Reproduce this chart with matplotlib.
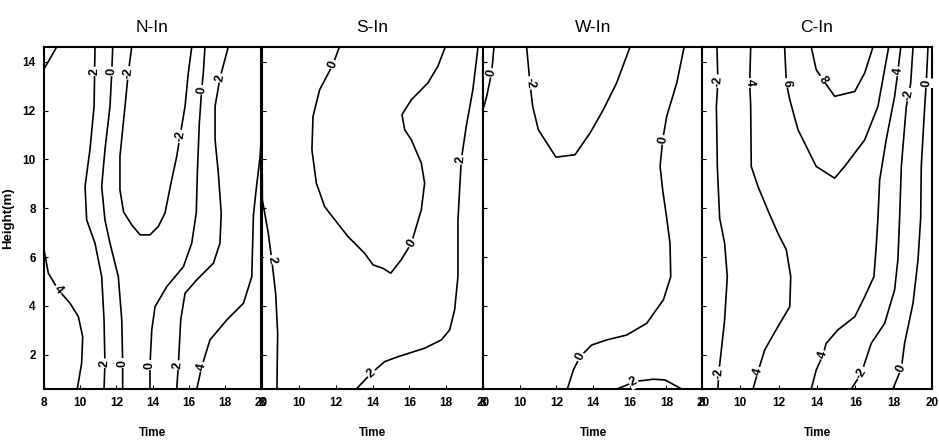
import numpy as np
import matplotlib
matplotlib.use("Agg")
import matplotlib.pyplot as plt

plt.rcParams['font.family'] = ['Liberation Sans', 'DejaVu Sans']

# Isolines: (level, time [h], height [m])
panel_titles = ["N-In", "S-In", "W-In", "C-In"]
time_ticks = [8, 10, 12, 14, 16, 18, 20]
height_ticks = [2, 4, 6, 8, 10, 12, 14]

n_in_lines = [
    (6, [8.0, 8.7], [13.7, 14.6]),
    (4, [8.0, 8.24, 8.79, 9.44, 9.90, 10.14, 10.08, 9.84],
        [6.3, 5.34, 4.66, 4.11, 3.56, 2.74, 1.65, 0.6]),
    (2, [10.82, 10.80, 10.77, 10.54, 10.27, 10.36, 10.82, 11.19, 11.32, 11.37, 11.32],
        [14.6, 13.6, 12.17, 10.39, 8.89, 7.52, 6.57, 5.2, 3.43, 1.66, 0.6]),
    (0, [11.80, 11.75, 11.65, 11.37, 11.19, 11.37, 11.65, 12.11, 12.30, 12.35, 12.35],
        [14.6, 13.6, 12.17, 10.39, 8.89, 7.52, 6.57, 5.2, 3.43, 1.66, 0.6]),
    (-2, [12.85, 12.66, 12.48, 12.20, 12.20, 12.40, 12.85, 13.31, 13.86, 14.32, 14.69,
          15.06, 15.34, 15.52, 15.80, 15.98, 16.17],
         [14.6, 13.54, 12.17, 10.12, 8.75, 7.85, 7.32, 6.91, 6.91, 7.25, 7.80,
          9.16, 10.12, 10.94, 12.17, 13.54, 14.6]),
    (0, [16.90, 16.81, 16.72, 16.59, 16.48, 16.42, 16.17, 15.71, 14.79, 14.14, 13.96, 13.86, 13.86],
        [14.6, 13.54, 12.85, 11.49, 9.44, 7.8, 6.57, 5.61, 4.79, 3.97, 3.02, 1.58, 0.6]),
    (2, [18.19, 17.73, 17.46, 17.46, 17.64, 17.80, 17.73, 17.37, 16.45, 15.80, 15.56, 15.43, 15.34],
        [14.6, 13.33, 12.17, 10.80, 9.44, 7.8, 6.57, 5.75, 5.07, 4.52, 3.43, 1.58, 0.6]),
    (4, [20.0, 19.95, 19.73, 19.58, 19.49, 19.03, 18.11, 17.18, 16.72, 16.45],
        [10.7, 10.12, 8.75, 7.7, 5.2, 4.11, 3.43, 2.61, 1.51, 0.6]),
]
n_in_labels = [("2", 10.80, 13.6), ("0", 11.75, 13.6), ("-2", 12.66, 13.54),
               ("-2", 15.52, 10.94), ("0", 16.72, 12.85), ("2", 17.73, 13.33),
               ("4", 8.79, 4.66), ("2", 11.37, 1.66), ("0", 12.35, 1.66),
               ("0", 13.86, 1.58), ("2", 15.43, 1.58), ("4", 16.72, 1.51)]

s_in_lines = [
    (2, [8.0, 8.02, 8.34, 8.53, 8.74, 8.85, 8.81],
        [10.8, 8.34, 6.98, 5.89, 4.52, 2.88, 0.6]),
    (0, [12.20, 11.85, 11.13, 10.77, 10.71, 10.95, 11.40, 11.67, 12.67, 13.57, 14.03, 14.57,
         14.99, 15.56, 16.11, 16.65, 16.83, 16.65, 16.11, 15.75, 15.60, 16.11, 17.01, 17.55, 17.95],
        [14.6, 13.88, 12.85, 11.76, 10.39, 9.03, 8.07, 7.80, 6.84, 6.16, 5.68, 5.54,
         5.34, 5.89, 6.57, 7.93, 9.03, 9.85, 10.80, 11.21, 11.83, 12.44, 13.13, 13.81, 14.6]),
    (2, [19.73, 19.45, 19.09, 18.82, 18.73, 18.64, 18.64, 18.46, 18.19, 17.74, 16.83, 15.38,
         14.66, 13.93, 13.12],
        [14.6, 12.85, 11.35, 9.98, 8.75, 7.52, 5.2, 3.84, 3.02, 2.61, 2.27, 1.92,
         1.72, 1.24, 0.6]),
]
s_in_labels = [("2", 8.53, 5.89), ("0", 11.85, 13.88), ("0", 16.11, 6.57),
               ("2", 18.82, 9.98), ("2", 13.93, 1.24)]

w_in_lines = [
    (0, [8.60, 8.47, 8.20, 8.0], [14.6, 13.54, 12.58, 12.03]),
    (-2, [10.38, 10.56, 10.71, 11.02, 11.98, 13.02, 13.84, 14.56, 15.29, 16.02],
         [14.6, 13.13, 12.17, 11.21, 10.09, 10.19, 11.08, 12.03, 13.13, 14.6]),
    (0, [18.97, 18.57, 18.02, 17.80, 17.66, 17.80, 18.02, 18.20, 18.24, 17.84, 16.93, 15.84,
         14.75, 13.93, 13.29, 12.93, 12.60],
        [14.6, 13.13, 11.76, 10.80, 9.71, 8.75, 7.6, 6.57, 5.2, 4.25, 3.29, 2.81,
         2.61, 2.40, 1.92, 1.38, 0.6]),
    (2, [15.29, 15.84, 16.20, 17.29, 17.93, 18.84], [0.6, 0.76, 0.90, 1.0, 0.97, 0.6]),
]
w_in_labels = [("0", 8.47, 13.54), ("-2", 10.56, 13.13), ("0", 17.80, 10.80),
               ("0", 13.29, 1.92), ("2", 16.20, 0.90)]

c_in_lines = [
    (-2, [8.78, 8.83, 8.75, 8.80, 8.92, 9.18, 9.32, 9.18, 9.01, 8.87, 8.83],
         [14.6, 13.20, 12.17, 9.71, 7.6, 6.57, 5.2, 3.43, 2.20, 1.24, 0.6]),
    (4, [10.54, 10.49, 10.54, 10.57, 10.92, 11.50, 11.96, 12.40, 12.63, 12.58, 11.96, 11.27,
         10.92, 10.66],
        [14.6, 13.13, 12.17, 9.71, 8.89, 7.8, 6.98, 6.30, 5.2, 3.97, 3.15, 2.20, 1.31, 0.6]),
    (6, [12.31, 12.36, 12.40, 12.58, 13.01, 13.96, 14.92, 15.44, 16.49, 17.18, 17.74],
        [14.6, 13.8, 13.13, 12.44, 11.21, 9.71, 9.23, 9.71, 10.80, 12.17, 14.6]),
    (8, [13.70, 13.96, 14.31, 14.92, 15.97, 16.49, 16.92],
        [14.6, 13.67, 13.26, 12.58, 12.78, 13.54, 14.6]),
    (4, [18.37, 18.22, 18.05, 17.61, 17.27, 17.18, 17.10, 16.97, 16.49, 15.97, 15.09, 14.48,
         14.31, 13.96, 13.70],
        [14.6, 13.60, 12.58, 10.80, 9.16, 7.6, 6.57, 5.2, 4.38, 3.56, 3.02, 2.47,
         1.99, 1.38, 0.6]),
    (-2, [19.01, 18.89, 18.78, 18.66, 18.40, 18.31, 18.22, 18.05, 17.53, 16.83, 16.31, 15.79],
         [14.6, 13.13, 12.65, 12.17, 9.71, 7.6, 5.89, 4.66, 3.29, 2.47, 1.24, 0.6]),
    (0, [19.79, 19.70, 19.62, 19.44, 19.41, 19.27, 19.01, 18.57, 18.40, 17.96],
        [14.6, 13.13, 12.17, 9.71, 7.6, 5.89, 4.11, 2.47, 1.44, 0.6]),
]
c_in_labels = [("-2", 8.83, 13.20), ("4", 10.49, 13.13), ("6", 12.40, 13.13),
               ("8", 14.31, 13.26), ("4", 18.22, 13.60), ("-2", 18.78, 12.65),
               ("0", 19.70, 13.13), ("-2", 8.87, 1.24), ("4", 10.92, 1.31),
               ("4", 14.31, 1.99), ("-2", 16.31, 1.24), ("0", 18.40, 1.44)]

panels = [(n_in_lines, n_in_labels), (s_in_lines, s_in_labels),
          (w_in_lines, w_in_labels), (c_in_lines, c_in_labels)]

# axes boxes in pixels (left, right), shared top/bottom
W, H = 939, 444
boxes = [(44, 261), (262, 483), (483, 703), (702, 932)]
top_px, bot_px = 47, 389


def label_angle(ax, lines, x, y):
    """Angle of the nearest isoline segment at (x, y), in screen degrees."""
    p = ax.transData.transform([(x, y)])[0]
    best, ang = np.inf, 0.0
    for _, t, h in lines:
        pts = ax.transData.transform(np.column_stack([t, h]))
        for a, b in zip(pts[:-1], pts[1:]):
            mid = (a + b) / 2
            d = np.hypot(*(mid - p))
            if d < best:
                best = d
                ang = np.degrees(np.arctan2(b[1] - a[1], b[0] - a[0]))
    if ang > 90:
        ang -= 180
    elif ang <= -90:
        ang += 180
    return ang


fig = plt.figure(figsize=(W / 100, H / 100), dpi=100)

for i, ((lines, labels), (l, r)) in enumerate(zip(panels, boxes)):
    ax = fig.add_axes([l / W, (H - bot_px) / H, (r - l) / W, (bot_px - top_px) / H])
    ax.set_xlim(8, 20)
    ax.set_ylim(0.6, 14.6)

    for level, t, h in lines:
        ax.plot(t, h, color='black', linewidth=1.2)

    for txt, x, y in labels:
        rot = label_angle(ax, lines, x, y)
        ax.text(x, y, txt, fontsize=9, fontweight='bold', ha='center', va='center',
                rotation=rot, rotation_mode='anchor', zorder=5,
                bbox=dict(boxstyle='square,pad=0.1', fc='white', ec='none'))

    ax.set_title(panel_titles[i], fontsize=12.5, pad=11)
    ax.set_xticks(time_ticks)
    ax.set_xlabel("Time", fontsize=8.5, fontweight='bold', labelpad=13)
    ax.tick_params(axis='both', direction='in', length=3, width=0.8,
                   labelsize=8.5, pad=6)
    for lab in ax.get_xticklabels():
        lab.set_fontweight('bold')
    ax.set_yticks(height_ticks)
    if i == 0:
        ax.set_ylabel("Height(m)", fontsize=9.5, fontweight='bold', labelpad=6)
        for lab in ax.get_yticklabels():
            lab.set_fontweight('bold')
    else:
        ax.set_yticklabels([])
    for sp in ax.spines.values():
        sp.set_linewidth(1.5)

fig.savefig("out.png", dpi=100)
